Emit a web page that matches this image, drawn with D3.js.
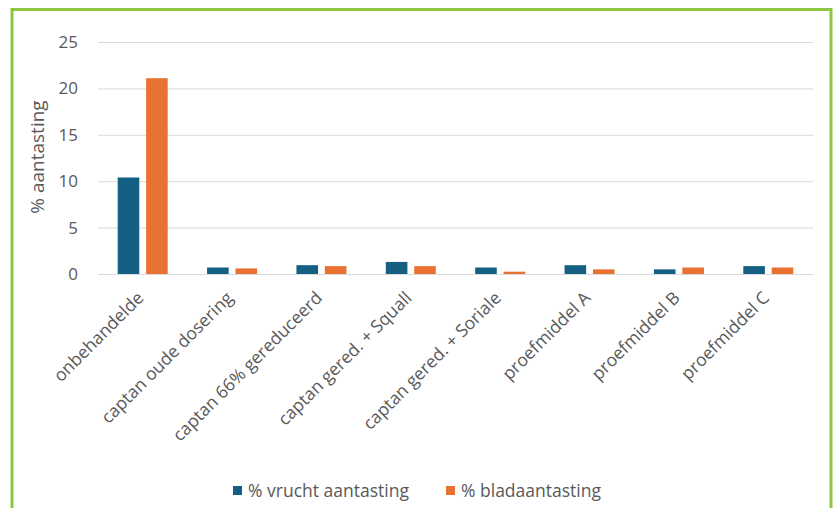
<!DOCTYPE html>
<html><head><meta charset="utf-8">
<script src="https://cdn.jsdelivr.net/npm/d3@7"></script>
<style>
body{margin:0;background:#fff;}
svg{display:block;}
text{font-family:"Open Sans", sans-serif;fill:#595959;}
</style></head>
<body><svg id="c" width="833" height="508"></svg>
<script>
const categories = ["onbehandelde","captan oude dosering","captan 66% gereduceerd","captan gered. + Squall","captan gered. + Soriale","proefmiddel A","proefmiddel B","proefmiddel C"];
const seriesNames = ["% vrucht aantasting","% bladaantasting"];
const vrucht = [10.4,0.7,0.95,1.3,0.7,0.95,0.5,0.85];
const blad = [21.1,0.6,0.85,0.85,0.25,0.5,0.7,0.7];
const yTicks = [0,5,10,15,20,25];
const colors = ["#156082","#E97132"];

const svg = d3.select("#c");
svg.append("rect").attr("x",12).attr("y",9.5).attr("width",819).attr("height",520)
  .attr("fill","none").attr("stroke","#8cc63e").attr("stroke-width",3);

const x = d3.scaleBand().domain(categories).range([98,813]);
const y = d3.scaleLinear().domain([0,25]).range([274,42]);

const gy = svg.append("g").attr("transform","translate(98,0)")
  .call(d3.axisLeft(y).tickValues(yTicks).tickSize(-715).tickPadding(20));
gy.select(".domain").remove();
gy.selectAll(".tick line").attr("stroke","#d9d9d9").attr("stroke-width",1);
gy.selectAll(".tick text").attr("font-size",17).style("fill","#595959");

svg.append("text").attr("transform","translate(44,157) rotate(-90)")
  .attr("text-anchor","middle").attr("font-size",19).text("% aantasting");

const data = categories.map((c,i)=>({c, v:[vrucht[i], blad[i]]}));
const sub = d3.scaleBand().domain([0,1]).range([-25,25]).paddingInner(0.24);
const g = svg.append("g");
data.forEach(d=>{
  d.v.forEach((v,k)=>{
    g.append("rect")
      .attr("x", x(d.c)+x.bandwidth()/2+sub(k))
      .attr("width", sub.bandwidth())
      .attr("y", y(v)).attr("height", y(0)-y(v))
      .attr("fill", colors[k]);
  });
});

const gx = svg.append("g").attr("transform","translate(0,274)")
  .call(d3.axisBottom(x).tickSize(0).tickPadding(0));
gx.select(".domain").attr("stroke","#d9d9d9");
gx.selectAll(".tick text")
  .attr("font-size",17.5).style("fill","#595959")
  .attr("text-anchor","end").attr("dy",0)
  .attr("transform","translate(2,25) rotate(-45)");

const leg = svg.append("g");
const legX = [233,446];
seriesNames.forEach((s,k)=>{
  leg.append("rect").attr("x",legX[k]).attr("y",486).attr("width",9).attr("height",9).attr("fill",colors[k]);
  leg.append("text").attr("x",legX[k]+15).attr("y",497).attr("font-size",17.5).text(s);
});
</script></body></html>
